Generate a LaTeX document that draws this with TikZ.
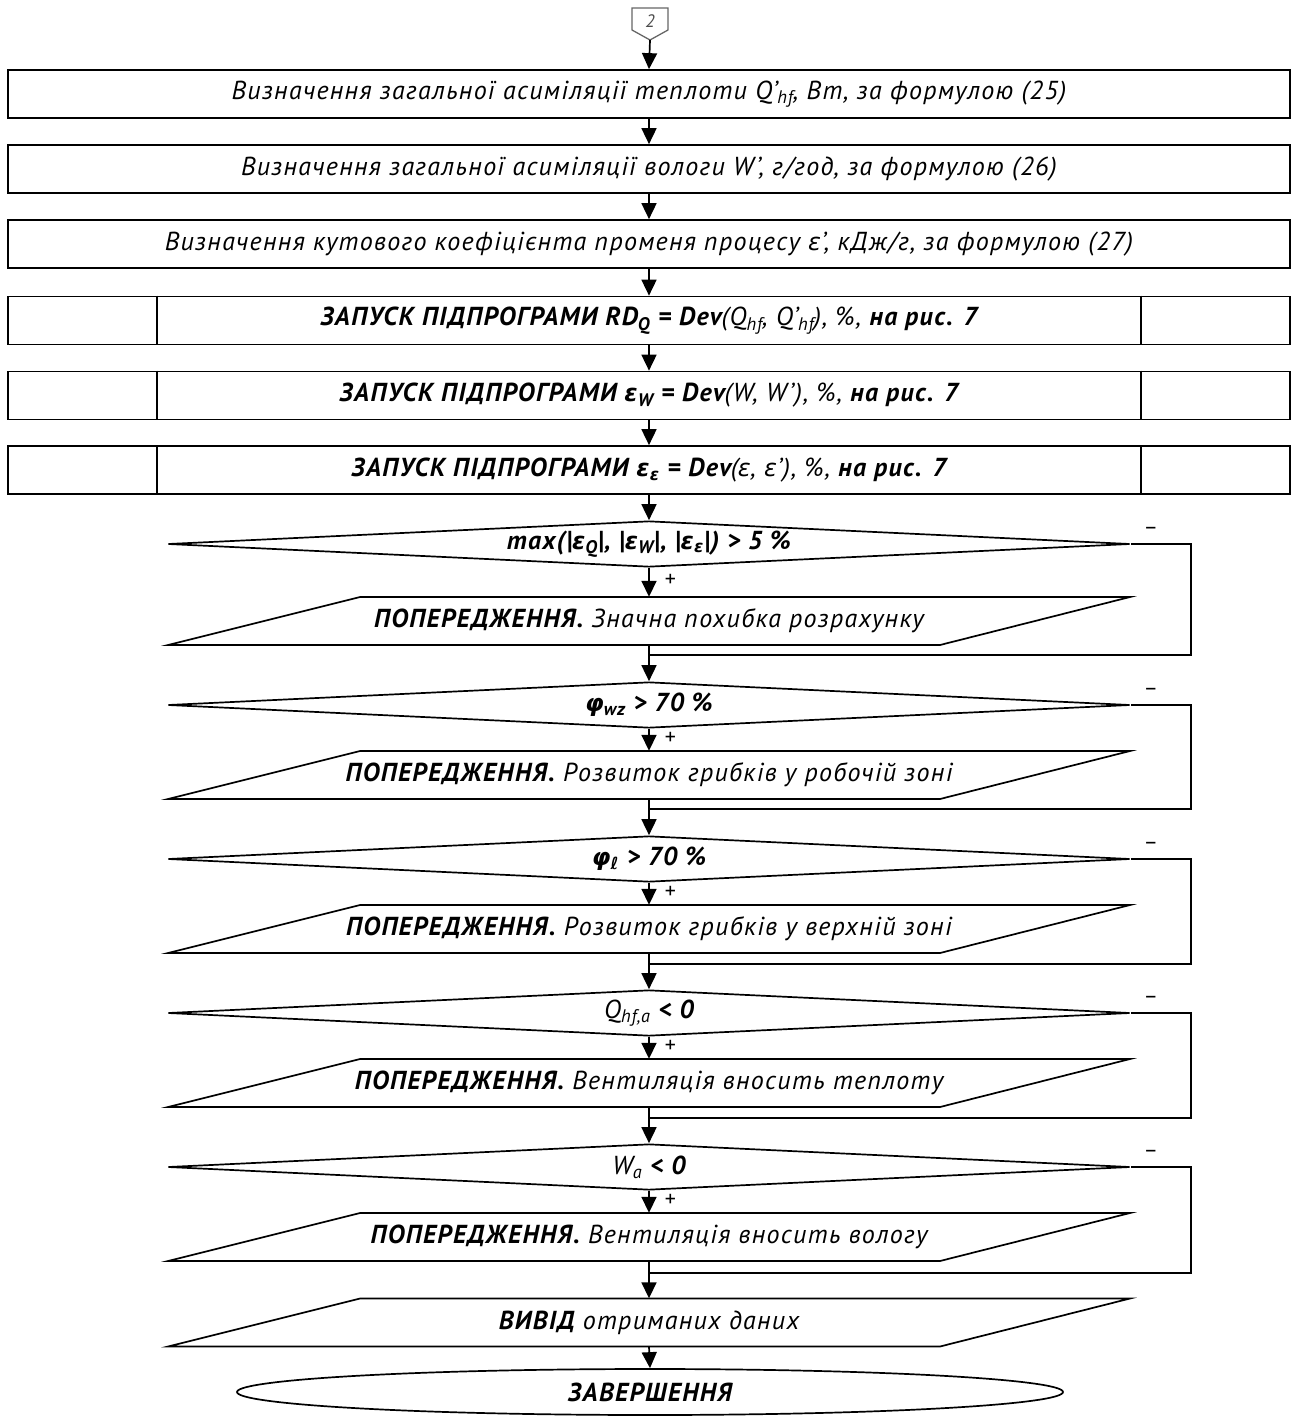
\documentclass[tikz,border=0pt]{standalone}
\usepackage{fontspec}
\setmainfont{PT Sans}[LetterSpace=5]
\newfontfamily\grf{DejaVu Sans}[Scale=0.92]
\usetikzlibrary{arrows.meta,shapes.geometric,calc}
\newcommand\sub[1]{\textsubscript{#1}}
\newcommand\grk[1]{{\grf #1}}
\begin{document}
\begin{tikzpicture}[x=1pt,y=-1pt,
  line/.style={draw=black,line width=1.7pt},
  arr/.style={line,-{Triangle[length=16pt,width=15pt]}},
  txt/.style={font=\fontsize{26}{30}\selectfont\itshape},
  procbox/.style={line,txt,rectangle,minimum width=1282pt,minimum height=48pt,inner sep=0pt},
  decbox/.style={line,txt,diamond,minimum width=962pt,minimum height=46pt,inner sep=0pt,aspect=20},
  parabox/.style={txt,rectangle,minimum width=600pt,minimum height=48pt,inner sep=0pt},
  termbox/.style={line,txt,ellipse,minimum width=826pt,minimum height=46pt,inner sep=0pt},
  sign/.style={font=\fontsize{22}{24}\selectfont,inner sep=1pt}
]
\useasboundingbox (0,0) rectangle (1292,1416);
% off-page connector
\draw[draw=black!60,line width=1.3pt] (632,8) -- (668,8) -- (668,30) -- (650,40) -- (632,30) -- cycle;
\node[font=\fontsize{18}{20}\selectfont\itshape,text=black!70] (c0) at (650,21) {2};
\coordinate (c0b) at (650,40);

\node[procbox] (b1) at (649,94) {Визначення загальної асиміляції теплоти Q’\sub{hf}, Вт, за формулою (25)};
\node[procbox] (b2) at (649,169) {Визначення загальної асиміляції вологи W’, г/год, за формулою (26)};
\node[procbox] (b3) at (649,244) {Визначення кутового коефіцієнта променя процесу \grk{ε}’, кДж/г, за формулою (27)};
\node[procbox] (b4) at (649,320.5) {\textbf{ЗАПУСК ПІДПРОГРАМИ RD\sub{Q} = Dev}(Q\sub{hf}, Q’\sub{hf}), \%, \textbf{на рис. 7}};
\node[procbox] (b5) at (649,395.5) {\textbf{ЗАПУСК ПІДПРОГРАМИ \grk{ε}\sub{W} = Dev}(W, W’), \%, \textbf{на рис. 7}};
\node[procbox] (b6) at (649,470) {\textbf{ЗАПУСК ПІДПРОГРАМИ \grk{ε}\sub{\grk{ε}} = Dev}(\grk{ε}, \grk{ε}’), \%, \textbf{на рис. 7}};
\foreach \b in {b4,b5,b6}{
  \draw[line] ([xshift=150pt]\b.north west) -- ([xshift=150pt]\b.south west);
  \draw[line] ([xshift=-150pt]\b.north east) -- ([xshift=-150pt]\b.south east);
}

\node[decbox] (d1) at (649,544) {\textbf{max(|\grk{ε}\sub{Q}|, |\grk{ε}\sub{W}|, |\grk{ε}\sub{\grk{ε}}|) > 5 \%}};
\node[parabox] (p1) at (649,621) {\textbf{ПОПЕРЕДЖЕННЯ.} Значна похибка розрахунку};
\coordinate (m1) at (649,655);
\node[decbox] (d2) at (649,705) {\textbf{\grk{φ}\sub{wz} > 70 \%}};
\node[parabox] (p2) at (649,775) {\textbf{ПОПЕРЕДЖЕННЯ.} Розвиток грибків у робочій зоні};
\coordinate (m2) at (649,809);
\node[decbox] (d3) at (649,859) {\textbf{\grk{φ}\sub{\grk{ℓ}} > 70 \%}};
\node[parabox] (p3) at (649,929) {\textbf{ПОПЕРЕДЖЕННЯ.} Розвиток грибків у верхній зоні};
\coordinate (m3) at (649,964);
\node[decbox] (d4) at (649,1013) {Q\sub{hf,a} \textbf{< 0}};
\node[parabox] (p4) at (649,1083) {\textbf{ПОПЕРЕДЖЕННЯ.} Вентиляція вносить теплоту};
\coordinate (m4) at (649,1118);
\node[decbox] (d5) at (649,1167) {W\sub{a} \textbf{< 0}};
\node[parabox] (p5) at (649,1237) {\textbf{ПОПЕРЕДЖЕННЯ.} Вентиляція вносить вологу};
\coordinate (m5) at (649,1273);
\node[parabox] (p6) at (649,1322.5) {\textbf{ВИВІД} отриманих даних};
\node[termbox] (t) at (650,1392) {\textbf{ЗАВЕРШЕННЯ}};

% parallelogram outlines
\foreach \y in {621,775,929,1083,1237,1322.5}{
  \draw[line] (360,\y-24) -- (1130,\y-24) -- (940,\y+24) -- (168,\y+24) -- cycle;
}

% main flow
\draw[arr] (c0b) -- (b1.north);
\draw[arr] (b1.south) -- (b2.north);
\draw[arr] (b2.south) -- (b3.north);
\draw[arr] (b3.south) -- (b4.north);
\draw[arr] (b4.south) -- (b5.north);
\draw[arr] (b5.south) -- (b6.north);
\draw[arr] (b6.south) -- (d1.north);

\foreach \d/\p/\m/\n in {d1/p1/m1/d2, d2/p2/m2/d3, d3/p3/m3/d4, d4/p4/m4/d5, d5/p5/m5/p6}{
  \draw[arr] (\d.south) -- node[sign,pos=0.42,right=14pt]{+} (\p.north);
  \draw[line] (\d.east) -- ++(60,0) |- (\m);
  \draw[line] (\p.south) -- (\m);
  \draw[arr] (\m) -- (\n.north);
  \node[sign] at ([xshift=20pt,yshift=13pt]\d.east) {–};
}
\draw[arr] (p6.south) -- (t.north);
\end{tikzpicture}
\end{document}
